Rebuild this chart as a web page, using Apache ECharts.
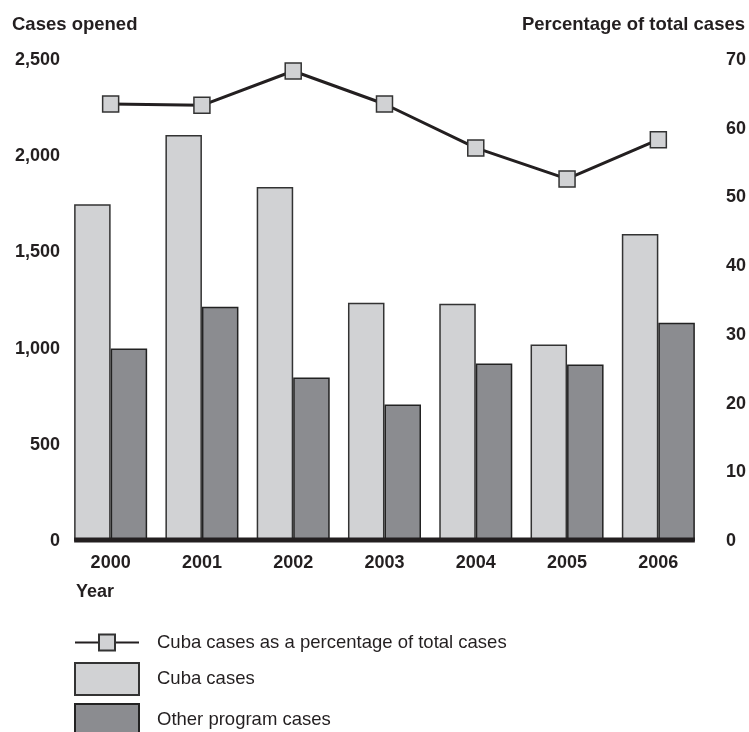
<!DOCTYPE html>
<html>
<head>
<meta charset="utf-8">
<script src="https://cdn.jsdelivr.net/npm/echarts@6/dist/echarts.min.js"></script>
<style>
  html, body { margin: 0; padding: 0; background: #fff; }
  #chart { width: 749px; height: 732px; }
</style>
</head>
<body>
<div id="chart"></div>
<script>
var years = ['2000', '2001', '2002', '2003', '2004', '2005', '2006'];
var cubaCases = [1750, 2110, 1840, 1238, 1233, 1021, 1595];
var otherCases = [1000, 1218, 850, 710, 922, 917, 1135];
var cubaPercent = [63.6, 63.4, 68.4, 63.6, 57.2, 52.7, 58.4];
var leftTicks = [0, 2500, 500];
var rightTicks = [0, 70, 10];

var font = "'Liberation Sans', Arial, Helvetica, sans-serif";
var ink = '#231f20';
var light = '#d1d2d4';
var dark = '#8b8c90';

var chart = echarts.init(document.getElementById('chart'));

function legendRow(name, top, h) {
  return {
    data: [name],
    left: 74, top: top, padding: 0,
    itemWidth: 64, itemHeight: h,
    icon: name.indexOf('percentage') >= 0 ? undefined : 'rect',
    selectedMode: false,
    textStyle: { fontFamily: font, fontSize: 18.5, color: ink, padding: [0, 0, 0, 13] }
  };
}

var option = {
  animation: false,
  textStyle: { fontFamily: font, color: ink },
  title: [
    {
      text: 'Cases opened', left: 12, top: 15, padding: 0,
      textStyle: { fontFamily: font, fontSize: 18.5, fontWeight: 'bold', color: ink }
    },
    {
      text: 'Percentage of total cases', right: 4, top: 15, padding: 0,
      textStyle: { fontFamily: font, fontSize: 18.5, fontWeight: 'bold', color: ink }
    },
    {
      text: 'Year', left: 76, top: 583, padding: 0,
      textStyle: { fontFamily: font, fontSize: 18, fontWeight: 'bold', color: ink }
    }
  ],
  legend: [
    legendRow('Cuba cases as a percentage of total cases', 633, 20),
    legendRow('Cuba cases', 662, 32),
    legendRow('Other program cases', 703, 32)
  ],
  grid: { left: 65, right: 44, top: 60, bottom: 191, containLabel: false },
  xAxis: {
    type: 'category',
    data: years,
    axisLine: { show: false },
    axisTick: { show: false },
    axisLabel: { fontFamily: font, fontSize: 18, fontWeight: 'bold', color: ink, margin: 13 }
  },
  yAxis: [
    {
      type: 'value',
      min: leftTicks[0], max: leftTicks[1], interval: leftTicks[2],
      axisLine: { show: false },
      axisTick: { show: false },
      splitLine: { show: false },
      axisLabel: {
        fontFamily: font, fontSize: 18, fontWeight: 'bold', color: ink, margin: 5,
        formatter: function (v) { return v.toLocaleString('en-US'); }
      }
    },
    {
      type: 'value',
      min: rightTicks[0], max: rightTicks[1], interval: rightTicks[2],
      axisLine: { show: false },
      axisTick: { show: false },
      splitLine: { show: false },
      axisLabel: { fontFamily: font, fontSize: 18, fontWeight: 'bold', color: ink, margin: 22 }
    }
  ],
  series: [
    {
      name: 'Cuba cases',
      type: 'bar',
      data: cubaCases,
      barGap: '0%',
      barCategoryGap: '20%',
      itemStyle: { color: light, borderColor: '#333', borderWidth: 1.5 }
    },
    {
      name: 'Other program cases',
      type: 'bar',
      data: otherCases,
      itemStyle: { color: dark, borderColor: '#222', borderWidth: 1.5 }
    },
    {
      name: 'Cuba cases as a percentage of total cases',
      type: 'line',
      yAxisIndex: 1,
      data: cubaPercent,
      symbol: 'rect',
      symbolSize: 16,
      z: 5,
      lineStyle: { color: ink, width: 3 },
      itemStyle: { color: light, borderColor: '#333', borderWidth: 1.5 }
    }
  ]
};

chart.setOption(option);

// thick baseline that spans only the bar groups
var x0 = chart.convertToPixel({ xAxisIndex: 0 }, years[0]);
var x1 = chart.convertToPixel({ xAxisIndex: 0 }, years[years.length - 1]);
var band = (x1 - x0) / (years.length - 1);
var yZero = chart.convertToPixel({ yAxisIndex: 0 }, 0);
chart.setOption({
  graphic: [{
    type: 'line',
    z: 10,
    shape: { x1: x0 - band * 0.4, y1: yZero - 1, x2: x1 + band * 0.4, y2: yZero - 1 },
    style: { stroke: ink, lineWidth: 5 }
  }]
});
</script>
</body>
</html>
